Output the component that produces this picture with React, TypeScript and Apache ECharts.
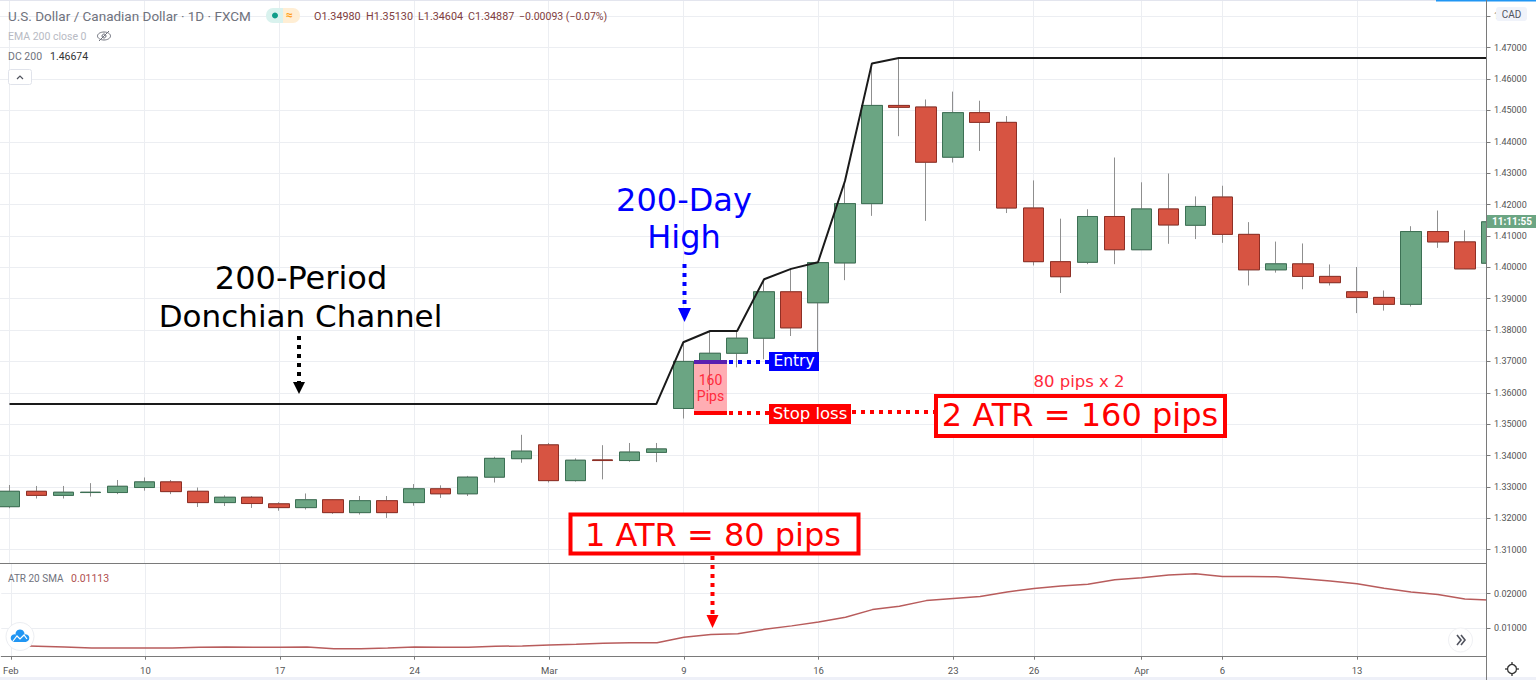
import React, { useEffect, useRef } from "react";
import * as echarts from "echarts";

const opens = [1.3237,1.3286,1.3273,1.3282,1.3282,1.3298,1.3316,1.3286,1.3250,1.3267,1.3246,1.3234,1.3259,1.3218,1.3256,1.3250,1.3294,1.3278,1.3331,1.3390,1.3434,1.3320,1.3386,1.3384,1.3410,1.3550,1.3700,1.3726,1.3774,1.3922,1.3887,1.4014,1.4203,1.4516,1.4511,1.4351,1.4493,1.4462,1.4189,1.4018,1.4016,1.4162,1.4056,1.4186,1.4134,1.4224,1.4105,1.3992,1.4011,1.3971,1.3922,1.3904,1.3882,1.4114,1.4081,1.4013];
const closes = [1.3286,1.3273,1.3283,1.3283,1.3302,1.3316,1.3285,1.3250,1.3267,1.3247,1.3234,1.3259,1.3218,1.3256,1.3218,1.3294,1.3278,1.3331,1.3391,1.3414,1.3320,1.3385,1.3384,1.3411,1.3421,1.3700,1.3726,1.3774,1.3922,1.3807,1.4015,1.4203,1.4516,1.4510,1.4335,1.4493,1.4462,1.4189,1.4018,1.3970,1.4162,1.4056,1.4186,1.4135,1.4194,1.4105,1.3992,1.4011,1.3971,1.3951,1.3904,1.3882,1.4114,1.4081,1.3995,1.4145];
const lows = [1.3232,1.3263,1.3263,1.3269,1.3277,1.3288,1.3277,1.3236,1.3239,1.3233,1.3224,1.3228,1.3214,1.3212,1.3201,1.3240,1.3265,1.3271,1.3314,1.3377,1.3314,1.3317,1.3324,1.3380,1.3379,1.3518,1.3609,1.3681,1.3707,1.3781,1.3731,1.3959,1.4164,1.4418,1.4148,1.4334,1.4371,1.4173,1.4006,1.3918,1.4010,1.4010,1.4056,1.4075,1.4090,1.4078,1.3942,1.3983,1.3930,1.3942,1.3854,1.3862,1.3875,1.4062,1.3995,1.4000];
const highs = [1.3306,1.3303,1.3303,1.3312,1.3322,1.3330,1.3322,1.3298,1.3273,1.3271,1.3251,1.3279,1.3261,1.3271,1.3271,1.3309,1.3305,1.3335,1.3396,1.3466,1.3440,1.3391,1.3433,1.3440,1.3440,1.3761,1.3797,1.3797,1.3962,1.3995,1.4016,1.4275,1.4650,1.4668,1.4535,1.4560,1.4531,1.4482,1.4277,1.4155,1.4185,1.4350,1.4271,1.4299,1.4226,1.4260,1.4144,1.4082,1.4076,1.4009,1.4001,1.3926,1.4131,1.4181,1.4118,1.4150];
const donchian = [1.3564,1.3564,1.3564,1.3564,1.3564,1.3564,1.3564,1.3564,1.3564,1.3564,1.3564,1.3564,1.3564,1.3564,1.3564,1.3564,1.3564,1.3564,1.3564,1.3564,1.3564,1.3564,1.3564,1.3564,1.3564,1.3761,1.3797,1.3797,1.3962,1.3995,1.4016,1.4275,1.4650,1.46674,1.46674,1.46674,1.46674,1.46674,1.46674,1.46674,1.46674,1.46674,1.46674,1.46674,1.46674,1.46674,1.46674,1.46674,1.46674,1.46674,1.46674,1.46674,1.46674,1.46674,1.46674,1.46674];
const atr = [0.0050,0.0048,0.0046,0.0043,0.0043,0.0043,0.0043,0.0045,0.0046,0.0045,0.0045,0.0046,0.0041,0.0041,0.0043,0.0046,0.0045,0.0045,0.0048,0.0049,0.0052,0.0054,0.0057,0.0058,0.0058,0.0074,0.0082,0.0084,0.0097,0.0107,0.0118,0.0132,0.0154,0.0164,0.0180,0.0186,0.0192,0.0205,0.0215,0.0222,0.0227,0.0240,0.0246,0.0254,0.0258,0.0250,0.0250,0.0249,0.0243,0.0237,0.0229,0.0216,0.0205,0.0198,0.0185,0.0181];
const xTickIndex = [0,5,10,15,20,25,30,35,38,42,45,50];
const xTickLabels = ["Feb","10","17","24","Mar","9","16","23","26","Apr","6","13"];
const priceTicks = [1.31,1.32,1.33,1.34,1.35,1.36,1.37,1.38,1.39,1.4,1.41,1.42,1.43,1.44,1.45,1.46,1.47,1.48];
const atrTicks = [0.01,0.02];

const UP = "#6ba583", UP_B = "#3c7054", DN = "#d75442", DN_B = "#8f2f25", WICK = "#8f8f8f";
const GRID = "#eceef2", AXIS = "#7a7a7a", RED = "#ff0000", BLUE = "#0000ff";
const F = "Roboto, sans-serif";
const BIG = "'DejaVu Sans', sans-serif";

const T = (text: string, x: number, y: number, size: number, fill: string, extra: any = {}) => ({
  type: "text", z: 30, silent: true, x, y,
  style: { text, fill, fontSize: size, fontFamily: F, align: "left", verticalAlign: "middle", ...extra },
});
const dots = (x1: number, y1: number, x2: number, y2: number, stroke: string, w = 4) => ({
  type: "line", z: 25, silent: true, shape: { x1, y1, x2, y2 },
  style: { stroke, lineWidth: w, lineDash: [4, 5] },
});
const seg = (x1: number, y1: number, x2: number, y2: number, stroke: string, w = 1) => ({
  type: "line", z: 25, silent: true, shape: { x1, y1, x2, y2 }, style: { stroke, lineWidth: w },
});
const rect = (x: number, y: number, width: number, height: number, fill: string, extra: any = {}, z = 24) => ({
  type: "rect", z, silent: true, shape: { x, y, width, height, ...(extra.r ? { r: extra.r } : {}) },
  style: { fill, ...(extra.stroke ? { stroke: extra.stroke, lineWidth: extra.lineWidth ?? 1 } : {}) },
});
const head = (x: number, yTop: number, yTip: number, half: number, fill: string) => ({
  type: "polygon", z: 26, silent: true,
  shape: { points: [[x - half, yTop], [x + half, yTop], [x, yTip]] }, style: { fill },
});
const big = (text: string, x: number, y: number, fill: string, size: number) => ({
  type: "text", z: 30, silent: true, x, y,
  style: { text, fill, fontSize: size, fontFamily: BIG, align: "center", verticalAlign: "middle" },
});

const graphics: any[] = [
  rect(0, 0, 1536, 1, "#e3e5ee"),
  rect(1436, 0, 100, 1.5, "#2196f3"),
  rect(0, 677, 1536, 3, "#eef0f8"),
  // keeps the partly visible last candle out of the price scale
  rect(1487, 0, 49, 680, "#ffffff", {}, 5),
  seg(1486.5, 0, 1486.5, 680, AXIS),
  // header
  T("U.S. Dollar / Canadian Dollar · 1D · FXCM", 8, 16, 13.5, "#6f727d"),
  rect(266, 8, 17, 15, "#d9f2ee", { r: [7, 0, 0, 7] }),
  rect(283, 8, 17, 15, "#ffeed4", { r: [0, 7, 7, 0] }),
  { type: "circle", z: 30, silent: true, shape: { cx: 275, cy: 15.5, r: 3 }, style: { fill: "#0f9d8a" } },
  T("≈", 286, 15, 12, "#ff9f1a", { fontWeight: "bold" }),
  T("O1.34980", 314, 16, 10.8, "#7f4040"),
  T("H1.35130", 366, 16, 10.8, "#7f4040"),
  T("L1.34604", 418, 16, 10.8, "#7f4040"),
  T("C1.34887", 468, 16, 10.8, "#7f4040"),
  T("−0.00093 (−0.07%)", 519, 16, 10.5, "#7f4040"),
  T("EMA 200 close 0", 8, 36, 10.5, "#b7bac3"),
  { type: "ellipse", z: 30, silent: true, shape: { cx: 104, cy: 36, rx: 6.5, ry: 4 }, style: { fill: "none", stroke: "#6f727d", lineWidth: 1 } },
  { type: "circle", z: 30, silent: true, shape: { cx: 104, cy: 36, r: 2 }, style: { fill: "none", stroke: "#6f727d", lineWidth: 1 } },
  seg(99, 41, 109, 31, "#6f727d"),
  T("DC 200", 8, 56, 10.5, "#6f727d"),
  T("1.46674", 50, 56, 10.5, "#333333"),
  rect(8.5, 69.5, 23, 15, "#ffffff", { r: 2, stroke: "#e0e3eb" }),
  { type: "polyline", z: 30, silent: true, shape: { points: [[17, 79], [20, 76], [23, 79]] }, style: { fill: "none", stroke: "#50535e", lineWidth: 1.2 } },
  // ATR legend
  T("ATR 20 SMA", 8, 578, 10, "#6f727d"),
  T("0.01113", 71, 578, 10.5, "#b05050"),
  // right scale
  rect(1496, 7, 31, 14, "#f0f3fa", { r: 3 }),
  T("CAD", 1511.5, 14, 10, "#50535e", { align: "center" }),
  rect(1487, 215, 49, 13, UP),
  T("11:11:55", 1512, 221.5, 10, "#ffffff", { align: "center", fontWeight: "bold" }),
  // logo and small controls
  { type: "circle", z: 28, silent: true, shape: { cx: 20, cy: 636.5, r: 14 }, style: { fill: "#ffffff", stroke: "#eceef2", lineWidth: 1 } },
  { type: "circle", z: 29, silent: true, shape: { cx: 20, cy: 634, r: 4.5 }, style: { fill: "#2196f3" } },
  { type: "circle", z: 29, silent: true, shape: { cx: 14.5, cy: 638, r: 3.8 }, style: { fill: "#2196f3" } },
  { type: "circle", z: 29, silent: true, shape: { cx: 25.5, cy: 638, r: 3.8 }, style: { fill: "#2196f3" } },
  rect(14, 637, 12, 5, "#2196f3", {}, 29),
  { type: "polyline", z: 30, silent: true, shape: { points: [[13, 641], [17, 636], [20, 639], [24, 635], [27, 639]] }, style: { fill: "none", stroke: "#ffffff", lineWidth: 1.2 } },
  { type: "circle", z: 28, silent: true, shape: { cx: 1460.5, cy: 640, r: 12 }, style: { fill: "#ffffff", stroke: "#f0f1f4", lineWidth: 1 } },
  { type: "polyline", z: 30, silent: true, shape: { points: [[1457, 635], [1461, 640], [1457, 645]] }, style: { fill: "none", stroke: "#50535e", lineWidth: 1.6 } },
  { type: "polyline", z: 30, silent: true, shape: { points: [[1461, 635], [1465, 640], [1461, 645]] }, style: { fill: "none", stroke: "#50535e", lineWidth: 1.6 } },
  { type: "circle", z: 30, silent: true, shape: { cx: 1512, cy: 669, r: 4.5 }, style: { fill: "none", stroke: "#333333", lineWidth: 1.3 } },
  seg(1512, 662, 1512, 664.5, "#333333", 1.3), seg(1512, 673.5, 1512, 676, "#333333", 1.3),
  seg(1505, 669, 1507.5, 669, "#333333", 1.3), seg(1516.5, 669, 1519, 669, "#333333", 1.3),
  // annotations
  big("200-Period", 301, 278, "#000000", 32),
  big("Donchian Channel", 300.5, 316, "#000000", 31),
  dots(299, 336, 299, 382, "#000000"),
  head(299, 382, 394, 6, "#000000"),
  big("200-Day", 684, 200, BLUE, 32),
  big("High", 684, 237, BLUE, 32),
  dots(684.5, 264, 684.5, 308, BLUE),
  head(684.5, 308, 322, 6.5, BLUE),
  rect(694, 362, 33, 51, "rgba(255,0,20,0.32)"),
  seg(694, 362, 727, 362, "#5a1fb0", 4),
  seg(694, 413, 727, 413, RED, 4),
  T("160", 710.5, 380, 14, "#ff2a3c", { align: "center" }),
  T("Pips", 710.5, 396, 14, "#ff2a3c", { align: "center" }),
  dots(729, 362, 769, 362, BLUE),
  rect(769, 352, 50, 19, BLUE),
  T("Entry", 794, 361, 15.5, "#ffffff", { align: "center", fontFamily: BIG }),
  dots(729, 413, 769, 413, RED),
  rect(769, 404, 82, 20, RED),
  T("Stop loss", 810, 413.5, 16.5, "#ffffff", { align: "center", fontFamily: BIG }),
  dots(852, 412, 934, 412, RED),
  T("80 pips x 2", 1079, 381, 16.5, "#ff2a3c", { align: "center", fontFamily: BIG }),
  rect(936, 396, 289, 40, "#ffffff", { stroke: RED, lineWidth: 4 }),
  big("2 ATR = 160 pips", 1080, 415, RED, 32),
  rect(570.5, 514.5, 288, 39, "#ffffff", { stroke: RED, lineWidth: 4 }),
  big("1 ATR = 80 pips", 713, 535, RED, 32),
  dots(712.5, 556, 712.5, 615, RED),
  head(712.5, 615, 628, 6, RED),
];

const idx = opens.map((_, i) => i);

export default function App() {
  const ref = useRef<HTMLDivElement>(null);
  useEffect(() => {
    const chart = echarts.init(ref.current!, undefined, { renderer: "svg" });
    const xMin = -9.5 / 26.95, xMax = (1486.5 - 9.5) / 26.95;
    const xAxisBase = {
      type: "value", min: xMin, max: xMax,
      splitLine: { show: true, lineStyle: { color: GRID, width: 1 } },
      axisLine: { show: true, onZero: false, lineStyle: { color: AXIS, width: 1 } },
    };
    const yGridAxis = {
      type: "value", position: "right", scale: true, z: 0,
      splitLine: { show: true, lineStyle: { color: GRID, width: 1 } },
      axisLine: { show: false, onZero: false },
      axisLabel: { show: false },
    };
    const yScaleAxis = {
      type: "value", position: "right", scale: true, z: 6,
      splitLine: { show: false },
      axisLine: { show: false, onZero: false },
    };
    const tick = { show: true, length: 4, lineStyle: { color: AXIS } };
    const lab = { margin: 7.5, fontSize: 9, fontFamily: F, color: "#555555", formatter: (v: number) => v.toFixed(5) };
    const priceRange = { min: 1.30558, max: 1.48521 };
    const atrRange = { min: 0.00179, max: 0.02873 };
    chart.setOption({
      animation: false,
      backgroundColor: "#ffffff",
      grid: [
        { left: 0, top: 0, width: 1486.5, height: 563.5, containLabel: false },
        { left: 0, top: 563.5, width: 1486.5, height: 93.2, containLabel: false },
      ],
      xAxis: [
        { ...xAxisBase, gridIndex: 0, position: "bottom",
          axisTick: { show: false, customValues: xTickIndex },
          axisLabel: { show: false, customValues: xTickIndex } },
        { ...xAxisBase, gridIndex: 1, position: "bottom",
          axisTick: { show: true, length: 3, customValues: xTickIndex, lineStyle: { color: AXIS } },
          axisLabel: {
            show: true, customValues: xTickIndex, margin: 9, fontSize: 9.5, fontFamily: F, color: "#555555",
            formatter: (v: number) => xTickLabels[xTickIndex.indexOf(v)] ?? "",
          } },
      ],
      yAxis: [
        { ...yGridAxis, ...priceRange, gridIndex: 0, axisTick: { show: false, customValues: priceTicks } },
        { ...yGridAxis, ...atrRange, gridIndex: 1, axisTick: { show: false, customValues: atrTicks } },
        { ...yScaleAxis, ...priceRange, gridIndex: 0, axisTick: { ...tick, customValues: priceTicks },
          axisLabel: { ...lab, customValues: priceTicks } },
        { ...yScaleAxis, ...atrRange, gridIndex: 1, axisTick: { ...tick, customValues: atrTicks },
          axisLabel: { ...lab, customValues: atrTicks } },
      ],
      series: [
        {
          name: "Wicks", type: "candlestick", xAxisIndex: 0, yAxisIndex: 0, barWidth: 21, z: 2,
          encode: { x: 0, y: [1, 2, 3, 4] },
          data: idx.map((i) => [i, opens[i], closes[i], lows[i], highs[i]]),
          itemStyle: { color: "#ffffff", color0: "#ffffff", borderColor: WICK, borderColor0: WICK, borderWidth: 1 },
        },
        {
          name: "Bodies", type: "candlestick", xAxisIndex: 0, yAxisIndex: 0, barWidth: 21, z: 3,
          encode: { x: 0, y: [1, 2, 3, 4] },
          data: idx.map((i) => [i, opens[i], closes[i], Math.min(opens[i], closes[i]), Math.max(opens[i], closes[i])]),
          itemStyle: { color: UP, color0: DN, borderColor: UP_B, borderColor0: DN_B, borderWidth: 1 },
        },
        {
          name: "DC 200", type: "line", xAxisIndex: 0, yAxisIndex: 0, z: 4, showSymbol: false,
          data: idx.map((i) => [i, donchian[i]]),
          lineStyle: { color: "#1a1a1a", width: 2 },
        },
        {
          name: "ATR 20 SMA", type: "line", xAxisIndex: 1, yAxisIndex: 1, z: 4, showSymbol: false,
          data: idx.map((i) => [i, atr[i]]),
          lineStyle: { color: "#b85c5c", width: 1.5 },
        },
      ],
      graphic: graphics,
    });
    return () => chart.dispose();
  }, []);
  return <div ref={ref} style={{ position: "fixed", left: 0, top: 0, width: 1536, height: 680 }} />;
}
